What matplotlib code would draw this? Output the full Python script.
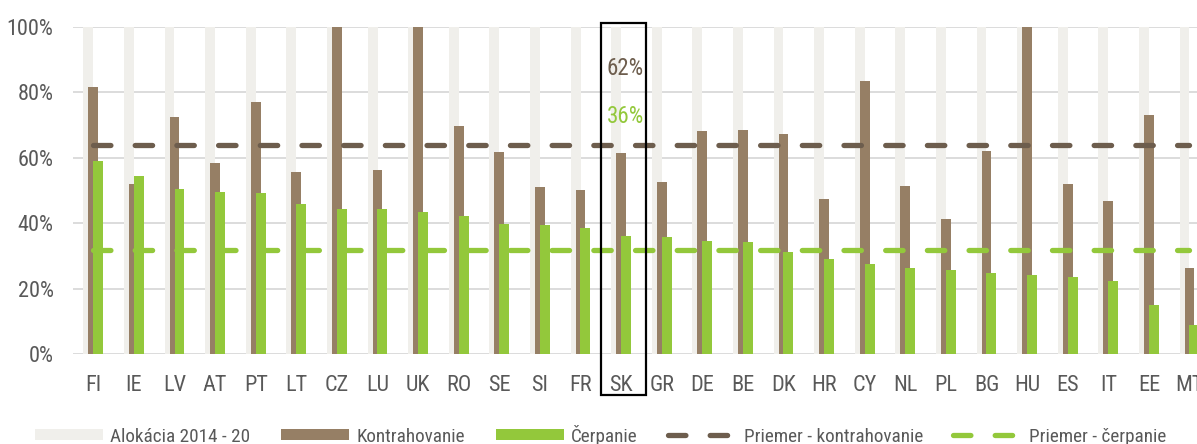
import matplotlib
matplotlib.use("Agg")
import matplotlib.pyplot as plt
from matplotlib.patches import Rectangle, Patch
from matplotlib.lines import Line2D
from matplotlib.ticker import FuncFormatter
import numpy as np
from matplotlib import font_manager

countries = ["FI", "IE", "LV", "AT", "PT", "LT", "CZ", "LU", "UK", "RO", "SE", "SI", "FR", "SK",
             "GR", "DE", "BE", "DK", "HR", "CY", "NL", "PL", "BG", "HU", "ES", "IT", "EE", "MT"]
alokacia = [100] * 28
kontrahovanie = [81.6, 51.9, 72.4, 58.4, 77.2, 55.8, 100, 56.2, 100, 69.8, 61.7, 51.2, 50.0, 61.6,
                 52.5, 68.2, 68.4, 67.2, 47.4, 83.6, 51.5, 41.4, 62.2, 100, 52.1, 46.9, 73.2, 26.2]
cerpanie = [58.9, 54.3, 50.4, 49.6, 49.3, 45.8, 44.4, 44.3, 43.3, 42.1, 39.7, 39.3, 38.4, 36.2,
            35.8, 34.6, 34.3, 31.2, 29.0, 27.4, 26.4, 25.8, 24.8, 24.1, 23.4, 22.2, 15.0, 9.0]
priemer_kontrahovanie = 64.0
priemer_cerpanie = 31.8
sk_labels = ["62%", "36%"]
y_ticks = [0, 20, 40, 60, 80, 100]

names = {f.name for f in font_manager.fontManager.ttflist}
prefs = ["Liberation Sans Narrow", "Arial Narrow", "Roboto Condensed", "Archivo Narrow",
         "PT Sans Narrow", "IBM Plex Sans Condensed", "Liberation Sans"]
fam = [f for f in prefs if f in names][:1] + ["DejaVu Sans"]
plt.rcParams["font.family"] = fam

C_GRAY = "#F0EFEB"
C_BROWN = "#967F65"
C_GREEN = "#93C83B"
C_DBROWN = "#6D5D4D"
C_TEXT = "#595959"

fig = plt.figure(figsize=(11.97, 4.44), dpi=100)
ax = fig.add_axes([73 / 1197, 90 / 444, 1136.8 / 1197, 327 / 444])

x = np.arange(len(countries))
w = 0.246
off = 0.123
ax.bar(x - off, alokacia, width=w, color=C_GRAY, zorder=2)
ax.bar(x, kontrahovanie, width=w, color=C_BROWN, zorder=3)
ax.bar(x + off, cerpanie, width=w, color=C_GREEN, zorder=4)

lw = 3.8
ax.plot([x[0], x[-1]], [priemer_kontrahovanie] * 2, color=C_DBROWN, lw=lw,
        dashes=(3.3, 4.6), dash_capstyle="round", zorder=5)
ax.plot([x[0], x[-1]], [priemer_cerpanie] * 2, color=C_GREEN, lw=lw,
        dashes=(3.3, 4.6), dash_capstyle="round", zorder=5)

ax.set_xlim(-0.5, len(countries) - 0.5)
ax.set_ylim(0, 100)
ax.set_yticks(y_ticks)
ax.yaxis.set_major_formatter(FuncFormatter(lambda v, p: f"{v:.0f}%"))
ax.set_xticks(x)
ax.set_xticklabels(countries)
ax.tick_params(axis="both", length=0, labelsize=16, colors=C_TEXT)
ax.tick_params(axis="x", pad=15)
ax.tick_params(axis="y", pad=14)
for s in ax.spines.values():
    s.set_visible(False)
ax.grid(axis="y", color="#D9D9D9", lw=1.3, zorder=0)
ax.set_axisbelow(True)

sk = countries.index("SK")
rect = Rectangle((sk - 0.49, -12.5), 1.11, 113.7, fill=False, edgecolor="black",
                 lw=1.6, clip_on=False, zorder=10)
ax.add_patch(rect)
ax.text(sk + 0.1, 87.2, sk_labels[0], color=C_DBROWN, fontsize=16.5, ha="center", va="center", zorder=11)
ax.text(sk + 0.1, 72.5, sk_labels[1], color=C_GREEN, fontsize=16.5, ha="center", va="center", zorder=11)

handles = [
    Patch(facecolor=C_GRAY, edgecolor="none"),
    Patch(facecolor=C_BROWN, edgecolor="none"),
    Patch(facecolor=C_GREEN, edgecolor="none"),
    Line2D([0], [0], color=C_DBROWN, lw=lw, dashes=(3.3, 4.6), dash_capstyle="round"),
    Line2D([0], [0], color=C_GREEN, lw=lw, dashes=(3.3, 4.6), dash_capstyle="round"),
]
labels = ["Alokácia 2014 - 20", "Kontrahovanie", "Čerpanie", "Priemer - kontrahovanie", "Priemer - čerpanie"]
leg = fig.legend(handles, labels, loc="center left", bbox_to_anchor=(35 / 1197, 9 / 444),
                 ncol=5, frameon=False, fontsize=13.8, handlelength=3.55, handleheight=0.54,
                 handletextpad=0.38, columnspacing=1.6, borderpad=0, borderaxespad=0)
for t in leg.get_texts():
    t.set_color(C_TEXT)

fig.savefig("out.png", dpi=100)
